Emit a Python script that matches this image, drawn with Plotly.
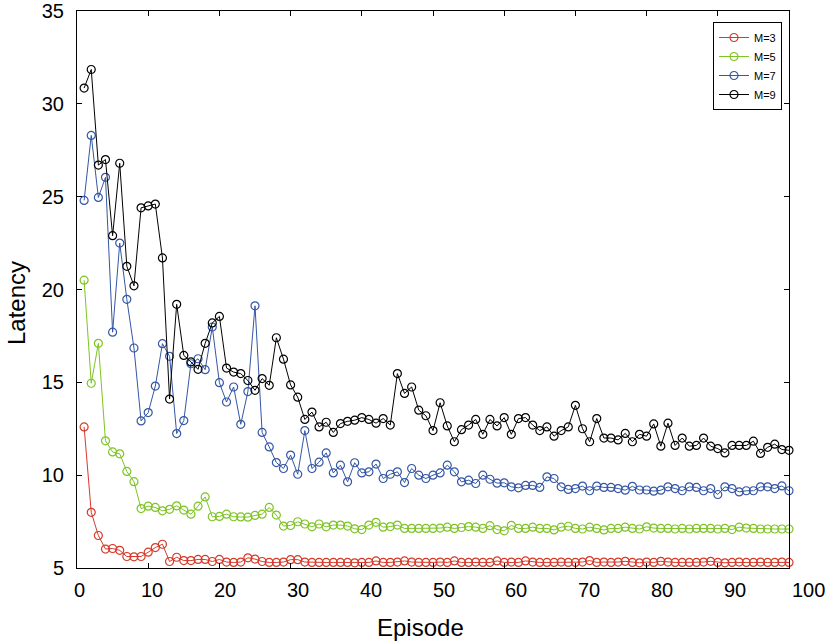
import plotly.graph_objects as go

episodes = list(range(1, 101))

m3 = [12.6, 8.0, 6.75, 6.02, 6.05, 5.95, 5.62, 5.6, 5.62, 5.85,
      6.1, 6.28, 5.35, 5.58, 5.4, 5.4, 5.46, 5.46, 5.35, 5.46,
      5.32, 5.3, 5.32, 5.55, 5.48, 5.35, 5.3, 5.3, 5.32, 5.45,
      5.45, 5.32, 5.3, 5.3, 5.3, 5.3, 5.3, 5.3, 5.28, 5.3,
      5.3, 5.38, 5.3, 5.3, 5.32, 5.38, 5.32, 5.3, 5.3, 5.3,
      5.32, 5.3, 5.38, 5.3, 5.3, 5.32, 5.3, 5.3, 5.38, 5.3,
      5.32, 5.3, 5.38, 5.32, 5.3, 5.3, 5.3, 5.32, 5.3, 5.3,
      5.32, 5.4, 5.3, 5.32, 5.3, 5.32, 5.36, 5.3, 5.28, 5.32,
      5.3, 5.36, 5.32, 5.3, 5.3, 5.3, 5.3, 5.32, 5.36, 5.3,
      5.28, 5.3, 5.32, 5.3, 5.3, 5.32, 5.3, 5.3, 5.32, 5.3]

m5 = [20.5, 14.95, 17.1, 11.85, 11.25, 11.15, 10.2, 9.65, 8.2, 8.33,
      8.26, 8.08, 8.16, 8.35, 8.12, 7.9, 8.33, 8.83, 7.76, 7.78,
      7.9, 7.76, 7.75, 7.74, 7.83, 7.9, 8.26, 7.85, 7.26, 7.29,
      7.49, 7.37, 7.22, 7.37, 7.22, 7.31, 7.31, 7.26, 7.11, 7.07,
      7.31, 7.46, 7.2, 7.23, 7.31, 7.13, 7.13, 7.13, 7.13, 7.13,
      7.15, 7.2, 7.13, 7.18, 7.23, 7.2, 7.13, 7.28, 7.07, 7.0,
      7.3, 7.13, 7.13, 7.2, 7.13, 7.13, 7.05, 7.2, 7.25, 7.13,
      7.1, 7.2, 7.13, 7.05, 7.13, 7.13, 7.2, 7.13, 7.1, 7.22,
      7.15, 7.13, 7.13, 7.1, 7.13, 7.1, 7.13, 7.13, 7.13, 7.1,
      7.13, 7.07, 7.2, 7.15, 7.13, 7.1, 7.1, 7.1, 7.1, 7.1]

m7 = [24.8, 28.3, 24.96, 26.04, 17.7, 22.5, 19.47, 16.85, 12.92, 13.37,
      14.8, 17.08, 16.4, 12.24, 12.94, 16.0, 16.27, 15.68, 17.98, 14.98,
      13.94, 14.75, 12.74, 14.5, 19.12, 12.3, 11.52, 10.68, 10.36, 11.08,
      10.05, 12.4, 10.36, 10.7, 11.2, 10.12, 10.54, 9.64, 10.67, 10.12,
      10.18, 10.6, 9.82, 10.05, 10.18, 9.6, 10.36, 10.0, 9.82, 10.0,
      10.12, 10.54, 10.18, 9.64, 9.73, 9.55, 10.0, 9.78, 9.57, 9.59,
      9.37, 9.32, 9.45, 9.45, 9.34, 9.91, 9.82, 9.37, 9.23, 9.28,
      9.41, 9.16, 9.41, 9.34, 9.34, 9.28, 9.19, 9.4, 9.2, 9.2,
      9.14, 9.19, 9.37, 9.28, 9.16, 9.37, 9.34, 9.16, 9.28, 8.96,
      9.37, 9.28, 9.1, 9.16, 9.16, 9.37, 9.37, 9.28, 9.42, 9.16]

m9 = [30.85, 31.85, 26.7, 27.0, 22.9, 26.8, 21.25, 20.2, 24.4, 24.5,
      24.6, 21.7, 14.1, 19.2, 16.45, 16.1, 15.7, 17.1, 18.2, 18.55,
      15.77, 15.55, 15.47, 15.1, 14.57, 15.2, 14.84, 17.4, 16.25, 14.86,
      14.2, 13.0, 13.4, 12.6, 12.85, 12.3, 12.78, 12.9, 12.96, 13.1,
      13.0, 12.8, 13.05, 12.7, 15.47, 14.4, 14.75, 13.5, 13.2, 12.4,
      13.9, 12.65, 11.8, 12.45, 12.7, 13.0, 12.2, 13.0, 12.65, 13.1,
      12.2, 13.05, 13.1, 12.7, 12.4, 12.6, 12.1, 12.4, 12.6, 13.76,
      12.5, 11.8, 13.05, 12.0, 12.0, 11.9, 12.25, 11.8, 12.2, 12.1,
      12.76, 11.56, 12.8, 11.6, 12.0, 11.56, 11.6, 12.0, 11.56, 11.43,
      11.2, 11.6, 11.6, 11.6, 11.83, 11.17, 11.5, 11.67, 11.38, 11.34]

series_names = ["M=3", "M=5", "M=7", "M=9"]
series_values = [m3, m5, m7, m9]
series_colors = ["rgb(214,58,42)", "rgb(126,196,36)", "rgb(52,86,166)", "rgb(0,0,0)"]

x_tick_vals = [0, 10, 20, 30, 40, 50, 60, 70, 80, 90, 100]
x_tick_text = [str(v) for v in x_tick_vals]
y_tick_vals = [5, 10, 15, 20, 25, 30, 35]

FONT = "Liberation Sans, Arial, Helvetica, sans-serif"

FIG_W, FIG_H = 830, 643
# plot area in page pixels (as in the reference)
L, R, T, B = 77, 789, 11, 568
W, H = R - L, B - T


def px_x(px):
    return (px - L) / W


def px_y(py):
    return (B - py) / H


fig = go.Figure()
for name, vals, col in zip(series_names, series_values, series_colors):
    fig.add_trace(go.Scatter(
        x=episodes, y=vals, name=name, mode="lines+markers",
        line=dict(color=col, width=1),
        marker=dict(symbol="circle-open", size=8, color=col,
                    line=dict(width=1.2, color=col)),
        cliponaxis=False,
    ))

annotations = []
# x tick labels (the reference spaces them slightly wider than the ticks)
for v, t in zip(x_tick_vals, x_tick_text):
    annotations.append(dict(
        x=px_x(79 + 7.29 * v), y=px_y(590), xref="paper", yref="paper",
        text=t, showarrow=False, xanchor="center", yanchor="middle",
        font=dict(family=FONT, size=20, color="black"),
    ))
annotations.append(dict(
    x=px_x(420), y=px_y(627), xref="paper", yref="paper", text="Episode",
    showarrow=False, xanchor="center", yanchor="middle",
    font=dict(family=FONT, size=24, color="black"),
))
annotations.append(dict(
    x=px_x(16), y=px_y(303), xref="paper", yref="paper", text="Latency",
    showarrow=False, xanchor="center", yanchor="middle", textangle=-90,
    font=dict(family=FONT, size=24, color="black"),
))

fig.update_layout(
    width=FIG_W, height=FIG_H,
    margin=dict(l=L, r=FIG_W - R, t=T, b=FIG_H - B, pad=0, autoexpand=False),
    paper_bgcolor="white", plot_bgcolor="white",
    font=dict(family=FONT, color="black"),
    showlegend=True,
    legend=dict(
        x=px_x(782), y=px_y(22), xanchor="right", yanchor="top",
        bordercolor="black", borderwidth=1, bgcolor="white",
        font=dict(family=FONT, size=11, color="black"),
        tracegroupgap=0, itemwidth=30,
    ),
    annotations=annotations,
)
fig.update_xaxes(
    range=[0, 100], tickvals=x_tick_vals, showticklabels=False,
    ticks="inside", ticklen=5, tickcolor="black", tickwidth=1,
    showline=True, linecolor="black", linewidth=1, mirror="allticks",
    showgrid=False, zeroline=False, automargin=False,
)
fig.update_yaxes(
    range=[5, 35], tickvals=y_tick_vals,
    tickfont=dict(family=FONT, size=20, color="black"),
    ticks="inside", ticklen=5, tickcolor="black", tickwidth=1,
    ticklabelstandoff=8, ticklabeloverflow="allow",
    showline=True, linecolor="black", linewidth=1, mirror="allticks",
    showgrid=False, zeroline=False, automargin=False,
)

fig.write_html(
    "out.html",
    config={"displayModeBar": False},
    post_script="document.body.style.margin='0';document.body.style.padding='0';",
)
